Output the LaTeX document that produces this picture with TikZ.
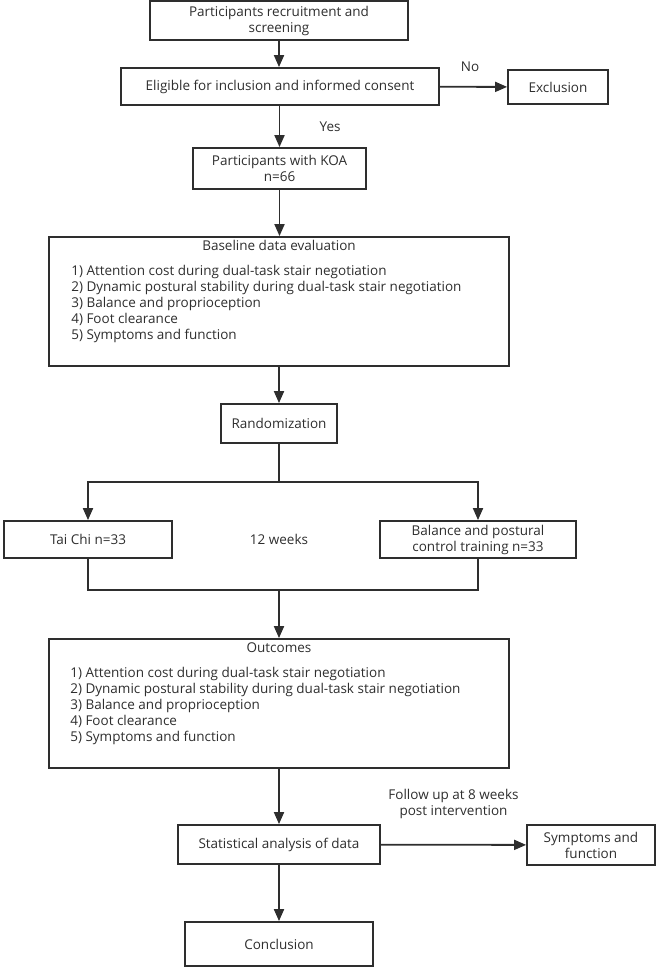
\documentclass[tikz,border=0pt]{standalone}
\usepackage{fontspec}
\setmainfont{Open Sans}
\usetikzlibrary{arrows.meta, positioning}
\definecolor{inkgrey}{HTML}{2E2E2E}

\begin{document}
\begin{tikzpicture}[
      x=1pt, y=-1pt,
      font=\fontsize{13.5}{16}\selectfont,
      every node/.style={text=inkgrey},
      box/.style={rectangle, draw=inkgrey, line width=1.8pt, align=center, inner sep=0pt},
      bigbox/.style={box, minimum width=460pt, minimum height=129pt},
      listtext/.style={align=left, inner sep=0pt},
      arrow/.style={-{Triangle[length=12pt, width=10pt]}, line width=1.8pt, draw=inkgrey},
      link/.style={line width=1.8pt, draw=inkgrey}
    ]
    \useasboundingbox (0,0) rectangle (664,968);

    \node[box, minimum width=258pt, minimum height=39pt] (recruit) at (279,20.5) {Participants recruitment and\\screening};
    \node[box, minimum width=318pt, minimum height=37pt] (elig) at (280,86.5) {Eligible for inclusion and informed consent};
    \node[box, minimum width=100pt, minimum height=34pt] (excl) at (558,87) {Exclusion};
    \node[box, minimum width=173pt, minimum height=41pt] (koa) at (279.5,168.5) {Participants with KOA\\n=66};

    \node[bigbox] (base) at (279,301.5) {};
    \node[below=4pt of base.north, inner sep=0pt] (basetitle) {Baseline data evaluation};
    \node[listtext, anchor=north west] (baselist) at ([xshift=23pt, yshift=-29pt]base.north west)
      {1) Attention cost during dual-task stair negotiation\\
       2) Dynamic postural stability during dual-task stair negotiation\\
       3) Balance and proprioception\\
       4) Foot clearance\\
       5) Symptoms and function};

    \node[box, minimum width=116pt, minimum height=39pt] (rand) at (279,423.5) {Randomization};
    \node[box, minimum width=168pt, minimum height=37pt] (taichi) at (88,539.5) {Tai Chi n=33};
    \node[box, minimum width=196pt, minimum height=37pt] (bpct) at (478,539.5) {Balance and postural\\control training n=33};
    \node (weeks) at (279,539) {12 weeks};

    \node[bigbox] (outc) at (279,703.5) {};
    \node[below=4pt of outc.north, inner sep=0pt] (outctitle) {Outcomes};
    \node[listtext, anchor=north west] (outclist) at ([xshift=22pt, yshift=-29pt]outc.north west)
      {1) Attention cost during dual-task stair negotiation\\
       2) Dynamic postural stability during dual-task stair negotiation\\
       3) Balance and proprioception\\
       4) Foot clearance\\
       5) Symptoms and function};

    \node[box, minimum width=202pt, minimum height=39pt] (stat) at (279,844.5) {Statistical analysis of data};
    \node[box, minimum width=128pt, minimum height=40pt] (symp) at (591,845) {Symptoms and\\function};
    \node[box, minimum width=188pt, minimum height=44pt] (concl) at (279,944) {Conclusion};

    \coordinate (split) at (279,482);
    \coordinate (merge) at (279,590);

    \draw[arrow] (recruit) -- (recruit |- elig.north);
    \draw[arrow] (elig) -- node[above=11pt, pos=0.45] (no) {No} (excl);
    \draw[arrow] (elig.south -| koa) -- node[right=36pt] (yes) {Yes} (koa);
    \draw[arrow] (koa) -- (koa |- base.north);
    \draw[arrow] (base.south -| rand) -- (rand);
    \draw[link] (rand) -- (split);
    \draw[arrow] (split) -| (taichi);
    \draw[arrow] (split) -| (bpct);
    \draw[link] (taichi) |- (merge);
    \draw[link] (bpct) |- (merge);
    \draw[arrow] (merge) -- (merge |- outc.north);
    \draw[arrow] (outc.south -| stat) -- (stat);
    \draw[arrow] (stat) -- node[above=22pt, align=center] (follow) {Follow up at 8 weeks\\post intervention} (symp);
    \draw[arrow] (stat) -- (concl);

    \end{tikzpicture}
\end{document}
